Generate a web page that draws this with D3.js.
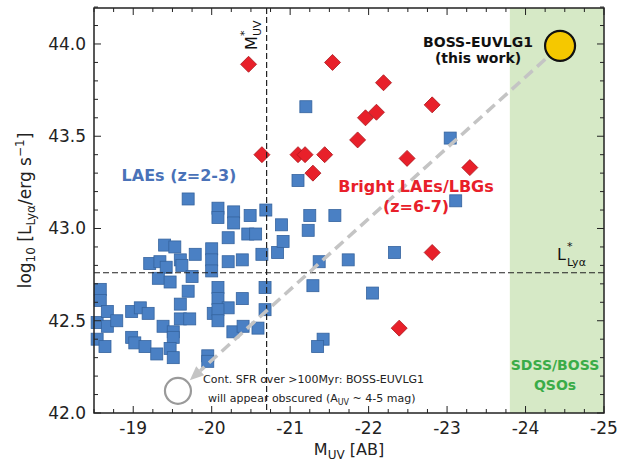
<!DOCTYPE html>
<html>
<head>
<meta charset="utf-8">
<script src="https://cdn.jsdelivr.net/npm/d3@7"></script>
<style>
  body { margin: 0; background: #fff; }
  text { font-family: "DejaVu Sans", sans-serif; }
</style>
</head>
<body>
<div id="chart"></div>
<script>
// LAEs z=2-3 (blue squares)
var laeX = [-18.58,-18.58,-18.54,-18.67,-18.67,-18.79,-18.54,-18.64,-18.98,-19.09,
  -19.19,-18.98,-19.02,-19.15,-19.30,-19.38,-19.51,-19.60,-19.60,-19.72,
  -19.51,-19.47,-19.51,-19.40,-19.53,-19.21,-19.34,-19.42,-19.32,-19.47,
  -19.60,-19.62,-19.75,-19.70,-19.79,-20.00,-20.00,-20.00,-20.21,-20.21,
  -20.39,-20.64,-20.46,-20.56,-20.84,-20.91,-19.70,-20.08,-20.08,-20.28,
  -20.28,-20.49,-20.69,-20.89,-21.10,-21.20,-21.25,-21.57,-21.23,-21.37,
  -21.74,-22.33,-21.29,-22.05,-21.42,-21.35,-23.04,-23.11,-20.08,-20.08,
  -20.39,-20.68,-20.21,-20.02,-20.08,-20.08,-20.68,-20.27,-20.40,-20.59,
  -19.95,-19.95];
var laeY = [42.67,42.61,42.49,42.55,42.47,42.50,42.40,42.36,42.55,42.57,
  42.54,42.41,42.38,42.36,42.32,42.47,42.44,42.59,42.51,42.51,
  42.41,42.35,42.30,42.91,42.90,42.81,42.82,42.79,42.73,42.71,
  42.83,42.80,42.74,42.66,42.86,42.89,42.83,42.77,42.95,42.82,
  42.83,42.86,42.97,42.97,42.87,42.93,43.16,43.11,43.06,43.09,
  43.03,43.07,43.10,43.02,43.26,43.66,43.07,43.07,42.99,42.82,
  42.83,42.87,42.69,42.65,42.40,42.36,43.49,43.15,42.68,42.62,
  42.62,42.68,42.57,42.54,42.56,42.50,42.56,42.44,42.47,42.46,
  42.31,42.28];

// bright LAEs/LBGs z=6-7 (red diamonds)
var brightX = [-20.47,-20.64,-21.10,-21.19,-21.29,-21.44,-21.54,-22.19,-21.96,-22.10,
  -21.86,-22.81,-22.49,-23.29,-22.81,-22.39];
var brightY = [43.89,43.40,43.40,43.40,43.30,43.40,43.90,43.79,43.60,43.63,
  43.48,43.67,43.38,43.33,42.87,42.46];

var thisWork = [-24.44, 43.99];
var obscured = [-19.57, 42.12];
var muvStar = -20.70;
var llyaStar = 42.76;
var qsoRange = [-23.8, -25];

var xTicks = [-19,-20,-21,-22,-23,-24,-25];
var yTicks = [42.0,42.5,43.0,43.5,44.0];

var width = 622, height = 466;
var margin = {left: 94, right: 18, top: 8, bottom: 53};

var svg = d3.select("#chart").append("svg")
  .attr("width", width)
  .attr("height", height);

var x = d3.scaleLinear().domain([-18.5, -25]).range([margin.left, width - margin.right]);
var y = d3.scaleLinear().domain([42.0, 44.195]).range([height - margin.bottom, margin.top]);

var x0 = margin.left, x1 = width - margin.right, y0 = height - margin.bottom, y1 = margin.top;

// QSO band
svg.append("rect")
  .attr("x", x(qsoRange[0]))
  .attr("y", y1)
  .attr("width", x(qsoRange[1]) - x(qsoRange[0]))
  .attr("height", y0 - y1)
  .style("fill", "#d6e9c6");

// squares
var sq = 12;
svg.selectAll("rect.lae")
  .data(d3.range(laeX.length))
  .enter().append("rect")
  .attr("class", "lae")
  .attr("x", i => x(laeX[i]) - sq/2)
  .attr("y", i => y(laeY[i]) - sq/2)
  .attr("width", sq)
  .attr("height", sq)
  .style("fill", "#4a80c4")
  .style("stroke", "#35639e")
  .style("stroke-width", 0.8);

// diamonds
var dm = 8;
svg.selectAll("path.bright")
  .data(d3.range(brightX.length))
  .enter().append("path")
  .attr("class", "bright")
  .attr("d", function(i) {
    var cx = x(brightX[i]), cy = y(brightY[i]);
    return "M" + cx + "," + (cy - dm) + "L" + (cx + dm) + "," + cy + "L" + cx + "," + (cy + dm) + "L" + (cx - dm) + "," + cy + "Z";
  })
  .style("fill", "#e8202a")
  .style("stroke", "#a8161c")
  .style("stroke-width", 0.8);

// M*UV and L*Lya lines
svg.append("line")
  .attr("x1", x(muvStar)).attr("x2", x(muvStar))
  .attr("y1", y1).attr("y2", y0)
  .style("stroke", "#222").style("stroke-width", 1.2)
  .style("stroke-dasharray", "6,3");
svg.append("line")
  .attr("x1", x0).attr("x2", x1)
  .attr("y1", y(llyaStar)).attr("y2", y(llyaStar))
  .style("stroke", "#222").style("stroke-width", 1.2)
  .style("stroke-dasharray", "6,3");

// arrow from this work to obscured
var ax = x(thisWork[0]), ay = y(thisWork[1]);
var bx = x(obscured[0]), by = y(obscured[1]);
var dx = bx - ax, dy = by - ay, len = Math.sqrt(dx*dx + dy*dy);
var ux = dx/len, uy = dy/len;
var sx = ax + ux*20, sy = ay + uy*20;
var tx = bx - ux*16, ty = by - uy*16;
var hx = tx - ux*14, hy = ty - uy*14;
svg.append("line")
  .attr("x1", sx).attr("y1", sy)
  .attr("x2", hx).attr("y2", hy)
  .style("stroke", "#c4c4c4").style("stroke-width", 3.5)
  .style("stroke-dasharray", "11,6");
svg.append("path")
  .attr("d", "M" + tx + "," + ty +
    "L" + (hx - uy*6) + "," + (hy + ux*6) +
    "L" + (hx + uy*6) + "," + (hy - ux*6) + "Z")
  .style("fill", "#c4c4c4");

svg.append("circle")
  .attr("cx", bx).attr("cy", by).attr("r", 13)
  .style("fill", "none").style("stroke", "#9a9a9a").style("stroke-width", 2.2);

svg.append("circle")
  .attr("cx", ax).attr("cy", ay).attr("r", 15)
  .style("fill", "#f5c800").style("stroke", "#111").style("stroke-width", 2.2);

// frame + ticks
var frame = svg.append("g");
var xMinor = d3.range(-18.5, -25.01, -0.25);
var yMinor = d3.range(42.0, 44.2, 0.1);
xMinor.forEach(function(v) {
  var major = Math.abs(v - Math.round(v)) < 1e-6;
  var l = major ? 7 : 4;
  frame.append("line").attr("x1", x(v)).attr("x2", x(v)).attr("y1", y0).attr("y2", y0 - l)
    .style("stroke", "#222").style("stroke-width", 1);
  frame.append("line").attr("x1", x(v)).attr("x2", x(v)).attr("y1", y1).attr("y2", y1 + l)
    .style("stroke", "#222").style("stroke-width", 1);
});
yMinor.forEach(function(v) {
  var major = Math.abs(v*2 - Math.round(v*2)) < 1e-6;
  var l = major ? 7 : 4;
  frame.append("line").attr("x1", x0).attr("x2", x0 + l).attr("y1", y(v)).attr("y2", y(v))
    .style("stroke", "#222").style("stroke-width", 1);
  frame.append("line").attr("x1", x1).attr("x2", x1 - l).attr("y1", y(v)).attr("y2", y(v))
    .style("stroke", "#222").style("stroke-width", 1);
});
frame.append("rect")
  .attr("x", x0).attr("y", y1).attr("width", x1 - x0).attr("height", y0 - y1)
  .style("fill", "none").style("stroke", "#222").style("stroke-width", 1.5);

// tick labels
svg.selectAll("text.xt").data(xTicks).enter().append("text")
  .attr("x", d => x(d)).attr("y", y0 + 21)
  .attr("text-anchor", "middle")
  .style("font-size", "17px").style("fill", "#222")
  .text(d => d);
svg.selectAll("text.yt").data(yTicks).enter().append("text")
  .attr("x", x0 - 8).attr("y", d => y(d) + 6)
  .attr("text-anchor", "end")
  .style("font-size", "17px").style("fill", "#222")
  .text(d => d.toFixed(1));

// axis labels
var xl = svg.append("text")
  .attr("x", (x0 + x1)/2).attr("y", y0 + 42)
  .attr("text-anchor", "middle")
  .style("font-size", "16px").style("fill", "#222");
xl.append("tspan").text("M");
xl.append("tspan").attr("dy", 4).style("font-size", "12px").text("UV");
xl.append("tspan").attr("dy", -4).text(" [AB]");

var yl = svg.append("text")
  .attr("transform", "translate(31," + ((y0 + y1)/2) + ") rotate(-90)")
  .attr("text-anchor", "middle")
  .style("font-size", "17px").style("fill", "#222");
yl.append("tspan").text("log");
yl.append("tspan").attr("dy", 4).style("font-size", "12px").text("10");
yl.append("tspan").attr("dy", -4).text(" [L");
yl.append("tspan").attr("dy", 4).style("font-size", "12px").text("Ly\u03b1");
yl.append("tspan").attr("dy", -4).text("/erg s");
yl.append("tspan").attr("dy", -7).style("font-size", "12px").text("\u22121");
yl.append("tspan").attr("dy", 7).text("]");

// annotations
svg.append("text")
  .attr("x", 179).attr("y", 181)
  .attr("text-anchor", "middle")
  .style("font-size", "16px").style("font-weight", "bold").style("fill", "#4a72b8")
  .text("LAEs (z=2-3)");

svg.append("text")
  .attr("x", 416).attr("y", 192)
  .attr("text-anchor", "middle")
  .style("font-size", "16px").style("font-weight", "bold").style("fill", "#e8202a")
  .text("Bright LAEs/LBGs");
svg.append("text")
  .attr("x", 416).attr("y", 212)
  .attr("text-anchor", "middle")
  .style("font-size", "16px").style("font-weight", "bold").style("fill", "#e8202a")
  .text("(z=6-7)");

svg.append("text")
  .attr("x", 478).attr("y", 47)
  .attr("text-anchor", "middle")
  .style("font-size", "14px").style("font-weight", "bold").style("fill", "#111")
  .text("BOSS-EUVLG1");
svg.append("text")
  .attr("x", 478).attr("y", 63)
  .attr("text-anchor", "middle")
  .style("font-size", "14px").style("font-weight", "bold").style("fill", "#111")
  .text("(this work)");

svg.append("text")
  .attr("x", 555).attr("y", 370)
  .attr("text-anchor", "middle")
  .style("font-size", "14px").style("font-weight", "bold").style("fill", "#3aac48")
  .text("SDSS/BOSS");
svg.append("text")
  .attr("x", 555).attr("y", 390)
  .attr("text-anchor", "middle")
  .style("font-size", "14px").style("font-weight", "bold").style("fill", "#3aac48")
  .text("QSOs");

svg.append("text")
  .attr("x", 203).attr("y", 383)
  .style("font-size", "11px").style("fill", "#222")
  .text("Cont. SFR over >100Myr: BOSS-EUVLG1");
var ob = svg.append("text")
  .attr("x", 208).attr("y", 402)
  .style("font-size", "11px").style("fill", "#222");
ob.append("tspan").text("will appear obscured (A");
ob.append("tspan").attr("dy", 3).style("font-size", "8px").text("UV");
ob.append("tspan").attr("dy", -3).text(" ~ 4-5 mag)");

// L*Lya label: base letter, superscript star and subscript stacked
svg.append("text")
  .attr("x", 557).attr("y", 260)
  .style("font-size", "16px").style("fill", "#111")
  .text("L");
svg.append("text")
  .attr("x", 567).attr("y", 250)
  .style("font-size", "11px").style("fill", "#111")
  .text("*");
svg.append("text")
  .attr("x", 567).attr("y", 266)
  .style("font-size", "11px").style("fill", "#111")
  .text("Ly\u03b1");

// M*UV label, rotated
var ml = svg.append("g")
  .attr("transform", "translate(" + (x(muvStar) - 10) + ",50) rotate(-90)");
ml.append("text").attr("x", 0).attr("y", 0)
  .style("font-size", "16px").style("fill", "#111").text("M");
ml.append("text").attr("x", 14).attr("y", -9)
  .style("font-size", "11px").style("fill", "#111").text("*");
ml.append("text").attr("x", 14).attr("y", 4)
  .style("font-size", "11px").style("fill", "#111").text("UV");
</script>
</body>
</html>
